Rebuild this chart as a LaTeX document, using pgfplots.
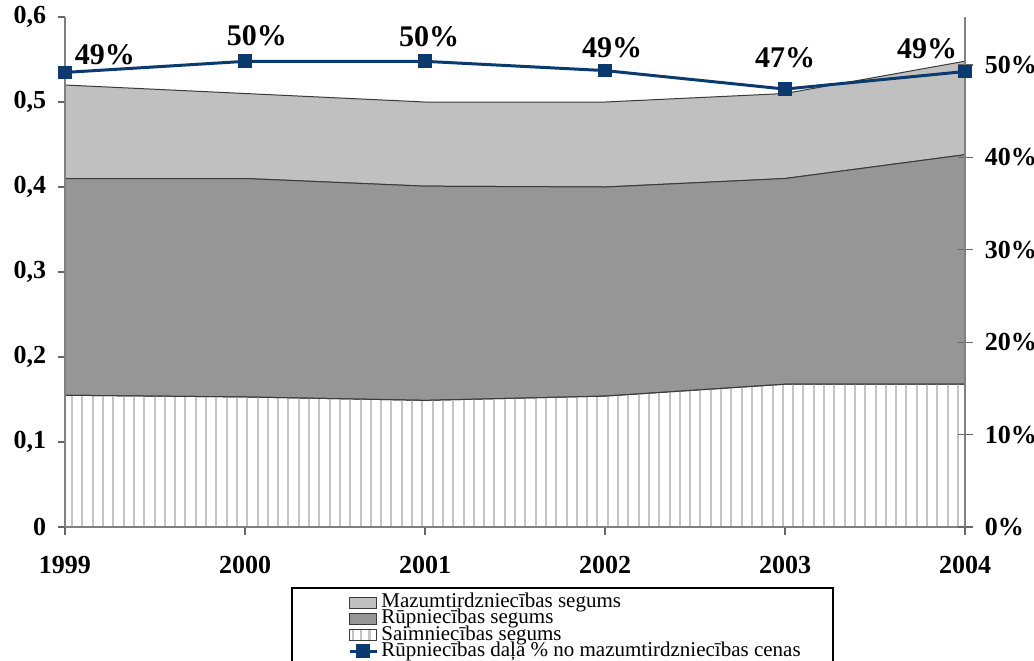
\documentclass[border=0pt]{standalone}
\usepackage{fontspec}
\setmainfont{Liberation Serif}
\usepackage{pgfplots}
\pgfplotsset{compat=1.18}
\usepackage{pgfplotstable}
\usetikzlibrary{patterns.meta}

\definecolor{lgray}{HTML}{C0C0C0}
\definecolor{dgray}{HTML}{969696}
\definecolor{hatch}{HTML}{C4C4C4}
\definecolor{navy}{HTML}{0A3A6E}
\definecolor{edge}{HTML}{3A3A3A}

\pgfplotsset{
  box legend/.style={legend image code/.code={\draw[##1] (0pt,-2.75pt) rectangle (13.5pt,2.75pt);}},
  dash legend/.style={legend image code/.code={\draw[mark repeat=2,mark phase=2,##1] plot coordinates {(0pt,0pt) (6.75pt,0pt) (13.5pt,0pt)};}},
}

% stacked increments
\pgfplotstableread{
year saim rup mazum
1999 0.155 0.255 0.110
2000 0.153 0.257 0.100
2001 0.149 0.252 0.099
2002 0.154 0.246 0.100
2003 0.168 0.242 0.100
2004 0.168 0.270 0.110
}\segums

\pgfplotstableread{
year dala
1999 0.492
2000 0.504
2001 0.504
2002 0.494
2003 0.474
2004 0.493
}\dala

\begin{document}
\begin{tikzpicture}
\path[use as bounding box] (-32.5pt,-66.5pt) rectangle (484.5pt,263.5pt);
\clip (-32.5pt,-66.5pt) rectangle (484.5pt,263.5pt);

\begin{axis}[
    scale only axis, width=450pt, height=255pt,
    xmin=1999, xmax=2004, ymin=0, ymax=0.6,
    stack plots=y,
    axis x line*=bottom, axis y line*=left,
    axis line style={draw=black!50, line width=0.6pt, -},
    xtick={1999,2000,2001,2002,2003,2004},
    xticklabels={1999,2000,2001,2002,2003,2004},
    ytick={0,0.1,0.2,0.3,0.4,0.5,0.6},
    yticklabels={0,{0,1},{0,2},{0,3},{0,4},{0,5},{0,6}},
    tick align=outside, major tick length=3.75pt,
    tick style={draw=black!60, line width=0.6pt},
    ticklabel style={font=\fontsize{13}{13}\selectfont\bfseries, inner sep=0pt},
    yticklabel shift=5.5pt, xticklabel shift=10.5pt,
    axis on top,
  ]
  \addplot[draw=edge, line width=0.5pt,
    pattern={Lines[angle=90,distance=5.15pt,line width=1pt]}, pattern color=hatch]
    table[x=year, y=saim] {\segums} \closedcycle;
  \addplot[draw=edge, line width=0.5pt, fill=dgray]
    table[x=year, y=rup] {\segums} \closedcycle;
  \addplot[draw=edge, line width=0.5pt, fill=lgray]
    table[x=year, y=mazum] {\segums} \closedcycle;
\end{axis}

\begin{axis}[
    scale only axis, width=450pt, height=255pt,
    xmin=1999, xmax=2004, ymin=0, ymax=0.552,
    axis x line=none, axis y line*=right,
    axis line style={draw=black!50, line width=0.6pt, -},
    ytick={0,0.1,0.2,0.3,0.4,0.5},
    yticklabels={0\%,10\%,20\%,30\%,40\%,50\%},
    tick align=center, major tick length=7.5pt,
    tick style={draw=black!60, line width=0.6pt},
    ticklabel style={font=\fontsize{13}{13}\selectfont\bfseries, inner sep=0pt},
    yticklabel shift=6pt,
    clip=false,
    legend style={at={(0.3144,-0.1314)}, anchor=north west, draw=none, fill=none,
      inner sep=0pt, font=\fontsize{10.5}{8}\selectfont, row sep=0pt, column sep=1.5pt,
      nodes={inner sep=0pt, text height=6.6pt, text depth=1.5pt}},
    legend cell align=left,
  ]
  \addlegendimage{box legend, draw=edge, fill=lgray}
  \addlegendentry{Mazumtirdzniecības segums}
  \addlegendimage{box legend, draw=edge, fill=dgray}
  \addlegendentry{Rūpniecības segums}
  \addlegendimage{box legend, draw=edge, pattern={Lines[angle=90,distance=4.2pt,line width=1.2pt]}, pattern color=hatch}
  \addlegendentry{Saimniecības segums}
  \addplot[navy, line width=1.5pt, mark=square*, mark size=2.7pt, dash legend]
    table[x=year, y=dala] {\dala};
  \addlegendentry{Rūpniecības daļa \% no mazumtirdzniecības cenas}

  \begin{scope}[font=\fontsize{15}{15}\selectfont\bfseries]
    \node[xshift=20pt, yshift=9pt] at (axis cs:1999,0.492) {49\%};
    \node[xshift=6pt, yshift=13pt] at (axis cs:2000,0.504) {50\%};
    \node[xshift=2pt, yshift=12.5pt] at (axis cs:2001,0.504) {50\%};
    \node[xshift=3.5pt, yshift=11.5pt] at (axis cs:2002,0.494) {49\%};
    \node[yshift=15.5pt] at (axis cs:2003,0.474) {47\%};
    \node[xshift=-19pt, yshift=11.5pt] at (axis cs:2004,0.493) {49\%};
  \end{scope}

  \draw[black, line width=0.6pt] (axis description cs:0.2522,-0.1196) rectangle (axis description cs:0.8533,-0.6);
\end{axis}
\end{tikzpicture}
\end{document}
